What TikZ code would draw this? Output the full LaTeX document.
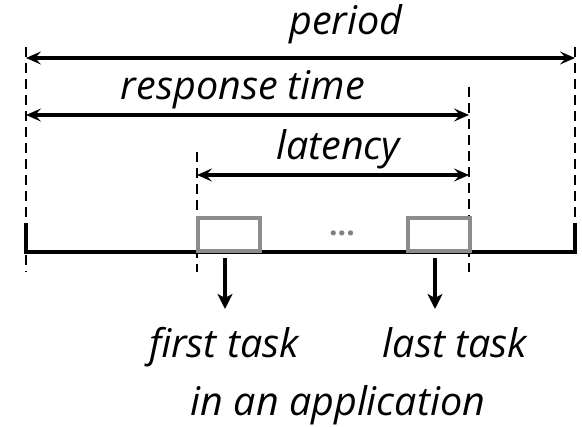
\documentclass[tikz,border=0pt]{standalone}
\usepackage{fontspec}
\setmainfont{Open Sans}
\usetikzlibrary{arrows.meta}
\begin{document}
\begin{tikzpicture}[x=1pt,y=-1pt,
  lbl/.style={font=\itshape\fontsize{39.5}{44}\selectfont, inner sep=0pt, anchor=base},
  dim/.style={line width=3.2pt, {Stealth[length=15pt,width=13pt,inset=6pt]}-{Stealth[length=15pt,width=13pt,inset=6pt]}},
  guide/.style={line width=2.6pt, dash pattern=on 10pt off 6pt},
  taskbox/.style={draw=gray!90, line width=4pt, fill=white},
  down/.style={line width=4.5pt, -{Stealth[length=15pt,width=15pt,inset=4pt]}}]
\useasboundingbox (0,0) rectangle (582,427);
% guide line coordinates
\coordinate (L1) at (26,47);  \coordinate (L2) at (26,272);
\coordinate (R1) at (575,47); \coordinate (R2) at (575,224);
\coordinate (M1) at (469,87); \coordinate (M2) at (469,272);
\coordinate (F1) at (197,152); \coordinate (F2) at (197,272);
\draw[guide] (L1) -- (L2);
\draw[guide] (R1) -- (R2);
\draw[guide] (M1) -- (M2);
\draw[guide] (F1) -- (F2);
% timeline
\coordinate (TL) at (26,223); \coordinate (TR) at (575,223);
\coordinate (BL) at (26,252); \coordinate (BR) at (575,252);
\draw[line width=4.2pt, line join=miter] (TL) -- (BL) -- (BR) -- (TR);
% tasks
\node[taskbox, minimum width=62pt, minimum height=33pt, inner sep=0pt] (first) at (228.5,235) {};
\node[taskbox, minimum width=62pt, minimum height=33pt, inner sep=0pt] (last) at (438.5,235) {};
\node[font=\fontsize{30}{32}\selectfont\bfseries, text=gray, inner sep=0pt, anchor=base] (dots) at (342,236) {...};
% dimension arrows
\coordinate (pA) at (26,58);  \coordinate (pB) at (575,58);
\coordinate (rA) at (26,115); \coordinate (rB) at (469,115);
\coordinate (lA) at (197,175); \coordinate (lB) at (469,175);
\draw[dim] (pA) -- (pB);
\draw[dim] (rA) -- (rB);
\draw[dim] (lA) -- (lB);
\node[lbl] (period) at (346,35) {period};
\node[lbl] (resp) at (243,100) {response time};
\node[lbl] (lat) at (338,160) {latency};
% down arrows
\coordinate (d1a) at (225,258); \coordinate (d1b) at (225,309);
\coordinate (d2a) at (435,258); \coordinate (d2b) at (435,309);
\draw[down] (d1a) -- (d1b);
\draw[down] (d2a) -- (d2b);
\node[lbl] (ft) at (224,358) {first task};
\node[lbl] (lt) at (455,358) {last task};
\node[lbl] (app) at (338,416) {in an application};
\end{tikzpicture}
\end{document}
